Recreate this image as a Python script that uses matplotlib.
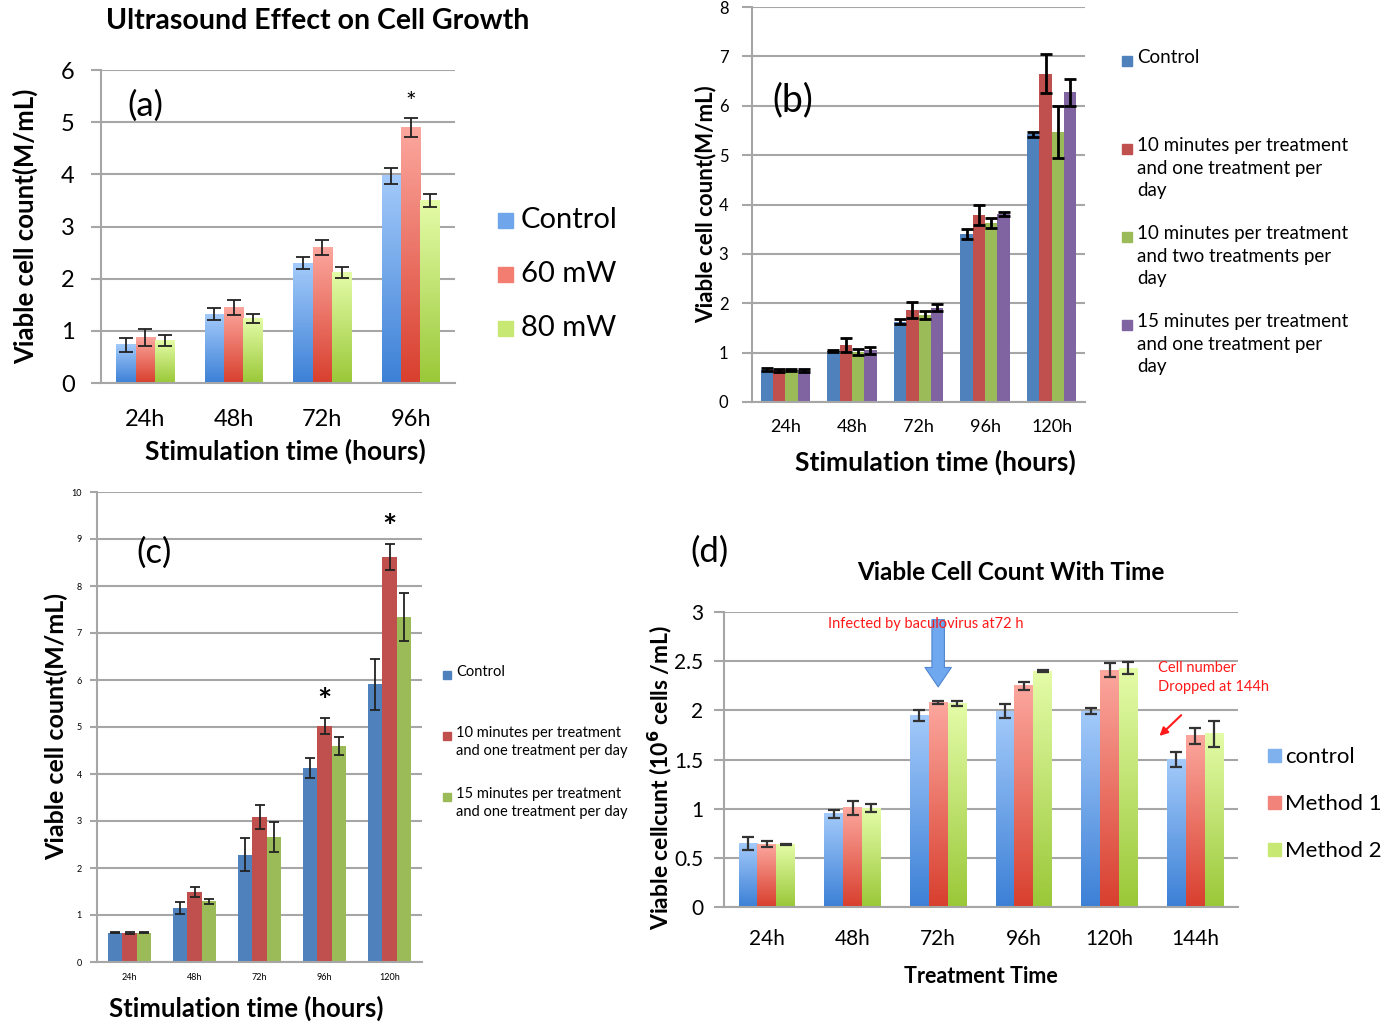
import matplotlib
matplotlib.use('Agg')
import matplotlib.pyplot as plt
import numpy as np
from matplotlib.patches import Rectangle
from matplotlib.colors import LinearSegmentedColormap

W, H = 1393, 1025
plt.rcParams['font.family'] = ['Lato', 'DejaVu Sans']

# ---------------- data ----------------
a_cats = ['24h', '48h', '72h', '96h']
a_labels = ['Control', '60 mW', '80 mW']
a_control = [0.73, 1.32, 2.30, 3.97]
a_control_err = [0.13, 0.12, 0.12, 0.15]
a_60mw = [0.87, 1.45, 2.60, 4.90]
a_60mw_err = [0.17, 0.15, 0.15, 0.18]
a_80mw = [0.81, 1.24, 2.12, 3.50]
a_80mw_err = [0.11, 0.09, 0.11, 0.13]

b_cats = ['24h', '48h', '72h', '96h', '120h']
b_labels = ['Control',
            '10 minutes per treatment\nand one treatment per\nday',
            '10 minutes per treatment\nand two treatments per\nday',
            '15 minutes per treatment\nand one treatment per\nday']
b_control = [0.65, 1.03, 1.63, 3.40, 5.42]
b_control_err = [0.03, 0.02, 0.06, 0.10, 0.05]
b_10x1 = [0.64, 1.15, 1.87, 3.78, 6.65]
b_10x1_err = [0.03, 0.14, 0.16, 0.20, 0.39]
b_10x2 = [0.64, 1.01, 1.77, 3.63, 5.47]
b_10x2_err = [0.02, 0.06, 0.08, 0.10, 0.53]
b_15x1 = [0.64, 1.05, 1.91, 3.81, 6.27]
b_15x1_err = [0.03, 0.07, 0.07, 0.04, 0.28]

c_cats = ['24h', '48h', '72h', '96h', '120h']
c_labels = ['Control',
            '10 minutes per treatment\nand one treatment per day',
            '15 minutes per treatment\nand one treatment per day']
c_control = [0.62, 1.15, 2.28, 4.13, 5.91]
c_control_err = [0.01, 0.13, 0.35, 0.21, 0.54]
c_10x1 = [0.61, 1.49, 3.09, 5.02, 8.62]
c_10x1_err = [0.02, 0.11, 0.26, 0.17, 0.28]
c_15x1 = [0.62, 1.29, 2.66, 4.60, 7.34]
c_15x1_err = [0.01, 0.05, 0.31, 0.19, 0.51]

d_cats = ['24h', '48h', '72h', '96h', '120h', '144h']
d_labels = ['control', 'Method 1', 'Method 2']
d_control = [0.645, 0.946, 1.946, 1.99, 1.99, 1.50]
d_control_err = [0.07, 0.045, 0.055, 0.07, 0.03, 0.075]
d_method1 = [0.64, 1.007, 2.084, 2.25, 2.41, 1.74]
d_method1_err = [0.03, 0.07, 0.015, 0.04, 0.07, 0.08]
d_method2 = [0.635, 1.003, 2.07, 2.40, 2.43, 1.76]
d_method2_err = [0.005, 0.04, 0.03, 0.01, 0.065, 0.13]

# ---------------- helpers ----------------
fig = plt.figure(figsize=(W / 100, H / 100), dpi=100)
GRID = '#a6a6a6'


def px_axes(left, top, right, bottom):
    return fig.add_axes([left / W, 1 - bottom / H, (right - left) / W, (bottom - top) / H])


def ftext(x, y, s, **kw):
    return fig.text(x / W, 1 - y / H, s, **kw)


def fsquare(x, y, size, color):
    fig.patches.append(Rectangle((x / W, 1 - (y + size / 2) / H), size / W, size / H,
                                 transform=fig.transFigure, color=color))


def style(ax, ylim, yticks, ncat, ytick_size, xtick_size, cats, ticklen=7, pad=8, xpad=8):
    ax.set_ylim(*ylim)
    ax.set_xlim(-0.5, ncat - 0.5)
    ax.set_yticks(yticks)
    ax.set_xticks(range(ncat))
    ax.set_xticklabels(cats)
    ax.yaxis.grid(True, color=GRID, lw=1.5)
    ax.set_axisbelow(True)
    for s in ['top', 'right']:
        ax.spines[s].set_visible(False)
    for s in ['left', 'bottom']:
        ax.spines[s].set_color(GRID)
        ax.spines[s].set_linewidth(1.5)
    ax.tick_params(axis='y', length=ticklen, width=1.5, color=GRID, labelsize=ytick_size, pad=pad)
    ax.tick_params(axis='x', length=0, labelsize=xtick_size, pad=xpad)


def grad_bars(ax, xs, vals, width, bot_col, top_col):
    cmap = LinearSegmentedColormap.from_list('g', [bot_col, top_col])
    grad = np.linspace(0, 1, 128).reshape(-1, 1)
    bars = ax.bar(xs, vals, width, color='none', edgecolor='none', zorder=2)
    for b in bars:
        x0 = b.get_x()
        w = b.get_width()
        h = b.get_height()
        ax.imshow(grad, extent=[x0, x0 + w, 0, h], origin='lower', aspect='auto',
                  cmap=cmap, zorder=2, interpolation='bilinear')
    return bars


# ---------------- panel (a) ----------------
ax = px_axes(101, 70, 455, 383)
series = [(a_control, a_control_err, '#3c80d6', '#a3cafa'),
          (a_60mw, a_60mw_err, '#d83f2e', '#fca79e'),
          (a_80mw, a_80mw_err, '#9ac838', '#e4fca8')]
bw = 0.22
x = np.arange(len(a_cats))
for i, (v, e, c0, c1) in enumerate(series):
    xs = x + (i - 1) * bw
    grad_bars(ax, xs, v, bw, c0, c1)
    ax.errorbar(xs, v, yerr=e, fmt='none', ecolor='#222222', elinewidth=1.3, capsize=5, capthick=1.3, zorder=3)
style(ax, (0, 6), range(0, 7), 4, 17, 17, a_cats, pad=12, xpad=19)
ax.text(x[3], a_60mw[3] + a_60mw_err[3] + 0.08, '*', ha='center', va='bottom', fontsize=18)
ax.text(0.075, 0.885, '(a)', transform=ax.transAxes, fontsize=25, va='center', ha='left')
ax.set_xlabel('Stimulation time (hours)', fontsize=19, fontweight='bold', labelpad=6)
ax.xaxis.label.set_x(0.52)
ax.set_ylabel('Viable cell count(M/mL)', fontsize=18.5, fontweight='bold', labelpad=16)
ftext(318, 21, 'Ultrasound Effect on Cell Growth', fontsize=20.5, fontweight='bold', ha='center', va='center')
for j, (lab, col) in enumerate(zip(a_labels, ['#6fa5ea', '#f27d70', '#c8e874'])):
    yy = 220 + j * 54
    fsquare(498, yy, 15, col)
    ftext(521, yy, lab, fontsize=21, va='center', ha='left')

# ---------------- panel (b) ----------------
ax = px_axes(752, 7, 1085, 402)
cols_b = ['#4f81bd', '#c0504d', '#9bbb59', '#8064a2']
series = [(b_control, b_control_err), (b_10x1, b_10x1_err), (b_10x2, b_10x2_err), (b_15x1, b_15x1_err)]
bw = 0.185
x = np.arange(len(b_cats))
for i, (v, e) in enumerate(series):
    xs = x + (i - 1.5) * bw
    ax.bar(xs, v, bw, color=cols_b[i], zorder=2)
    ax.errorbar(xs, v, yerr=e, fmt='none', ecolor='black', elinewidth=2, capsize=4, capthick=2, zorder=3)
style(ax, (0, 8), range(0, 9), 5, 12, 13, b_cats, pad=10, xpad=12)
ax.text(0.06, 0.765, '(b)', transform=ax.transAxes, fontsize=27, va='center', ha='left')
ax.set_xlabel('Stimulation time (hours)', fontsize=19, fontweight='bold', labelpad=11)
ax.xaxis.label.set_x(0.55)
ax.set_ylabel('Viable cell count(M/mL)', fontsize=16, fontweight='bold', labelpad=2)
for lab, col, yy in zip(b_labels, cols_b, [61, 149, 237, 325]):
    fsquare(1122, yy, 10, col)
    ftext(1137, yy - 12, lab, fontsize=13.5, va='top', ha='left', linespacing=1.4)

# ---------------- panel (c) ----------------
ax = px_axes(97, 492, 422, 962)
cols_c = ['#4f81bd', '#c0504d', '#9bbb59']
series = [(c_control, c_control_err), (c_10x1, c_10x1_err), (c_15x1, c_15x1_err)]
bw = 0.22
x = np.arange(len(c_cats))
for i, (v, e) in enumerate(series):
    xs = x + (i - 1) * bw
    ax.bar(xs, v, bw, color=cols_c[i], zorder=2)
    ax.errorbar(xs, v, yerr=e, fmt='none', ecolor='#222222', elinewidth=1.3, capsize=3.5, capthick=1.3, zorder=3)
style(ax, (0, 10), range(0, 11), 5, 6.5, 6.5, c_cats, ticklen=5, pad=6, xpad=8)
for k in [3, 4]:
    ax.text(x[k], c_10x1[k] + c_10x1_err[k] + 0.02, '*', ha='center', va='bottom', fontsize=24, fontweight='bold')
ax.text(0.12, 0.87, '(c)', transform=ax.transAxes, fontsize=25, va='center', ha='left')
ax.set_xlabel('Stimulation time (hours)', fontsize=18.5, fontweight='bold', labelpad=10)
ax.xaxis.label.set_x(0.46)
ax.set_ylabel('Viable cell count(M/mL)', fontsize=18, fontweight='bold', labelpad=2)
for lab, col, yy in zip(c_labels, cols_c, [675, 736, 797]):
    fsquare(443, yy, 8, col)
    ftext(456, yy - 10, lab, fontsize=10.5, va='top', ha='left', linespacing=1.4)

# ---------------- panel (d) ----------------
ax = px_axes(724, 612, 1238, 907)
series = [(d_control, d_control_err, '#3c80d6', '#a3cafa'),
          (d_method1, d_method1_err, '#d83f2e', '#fca79e'),
          (d_method2, d_method2_err, '#9ac838', '#e4fca8')]
bw = 0.22
x = np.arange(len(d_cats))
for i, (v, e, c0, c1) in enumerate(series):
    xs = x + (i - 1) * bw
    grad_bars(ax, xs, v, bw, c0, c1)
    ax.errorbar(xs, v, yerr=e, fmt='none', ecolor='#333333', elinewidth=1.6, capsize=4, capthick=1.6, zorder=3)
style(ax, (0, 3), [0, 0.5, 1, 1.5, 2, 2.5, 3], 6, 15, 15, d_cats, pad=8, xpad=16)
ax.set_yticklabels(['0', '0.5', '1', '1.5', '2', '2.5', '3'])
ftext(1011, 572, 'Viable Cell Count With Time', fontsize=17.5, fontweight='bold', ha='center', va='center')
ax.set_xlabel('Treatment Time', fontsize=15.5, fontweight='bold', labelpad=12)
ax.set_ylabel('Viable cellcunt (10$^{\\mathbf{6}}$ cells /mL)', fontsize=16.5, fontweight='bold')
ax.yaxis.set_label_coords(-0.098, 0.44)
ax.annotate('', xy=(2, 2.21), xytext=(2, 2.95),
            arrowprops=dict(arrowstyle='simple,head_length=1.4,head_width=1.9,tail_width=0.9',
                            fc='#6fa8ee', ec='#4f86cf', lw=0.8), zorder=4)
ax.text(1.85, 2.88, 'Infected by baculovirus at72 h', color='#ff1a1a', fontsize=10.5,
        ha='center', va='center', zorder=5)
ax.annotate('', xy=(4.56, 1.72), xytext=(4.86, 1.97),
            arrowprops=dict(arrowstyle='-|>', color='#ff1a1a', lw=1.5, mutation_scale=12))
ax.text(4.57, 2.33, 'Cell number\nDropped at 144h', color='#ff1a1a', fontsize=10.5,
        ha='left', va='center', linespacing=1.45)
ftext(710, 552, '(d)', fontsize=25, ha='center', va='center')
for j, (lab, col) in enumerate(zip(d_labels, ['#7fb1ee', '#f2837a', '#c8e874'])):
    yy = 755 + j * 47
    fsquare(1268, yy, 13, col)
    ftext(1285, yy + 2, lab, fontsize=16, va='center', ha='left')

fig.savefig('out.png', dpi=100)
